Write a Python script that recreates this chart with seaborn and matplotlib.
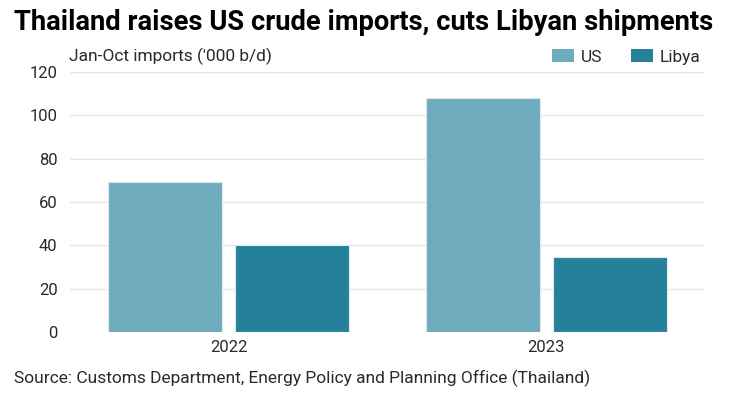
import numpy as np
import pandas as pd
import matplotlib
matplotlib.use("Agg")
import matplotlib.pyplot as plt
import seaborn as sns
from matplotlib.patches import Patch

# datos
anios = ["2022", "2023"]
origenes = ["US", "Libya"]
us = [69.3, 108.0]
libya = [40.0, 34.8]

colores = {"US": "#6EABBD", "Libya": "#25819A"}
texto = "#2a2a2a"

df = pd.DataFrame({
    "anio": anios * 2,
    "origen": ["US"] * 2 + ["Libya"] * 2,
    "valor": us + libya,
})

sns.set_theme(style="white")
plt.rcParams["font.family"] = ["Roboto", "DejaVu Sans"]

fig = plt.figure(figsize=(7.29, 3.98), dpi=100)
ax = fig.add_axes([70 / 729, 1 - 332 / 398, 635 / 729, 260 / 398])

sns.barplot(data=df, x="anio", y="valor", hue="origen", order=anios,
            hue_order=origenes, palette=colores, saturation=1, width=0.8, gap=0.1,
            edgecolor="#DCEBF0", linewidth=0.8, ax=ax, legend=False)

ax.set_ylim(0, 120)
ax.set_xlim(-0.5, 1.5)
ax.set_yticks(np.arange(0, 121, 20))
ax.yaxis.grid(True, color="#E6E6E6", linewidth=1)
ax.set_axisbelow(True)
for s in ax.spines.values():
    s.set_visible(False)
ax.set_xlabel("")
ax.set_ylabel("")
ax.tick_params(axis="both", length=0, labelsize=12, colors=texto)
ax.tick_params(axis="y", pad=9)
ax.tick_params(axis="x", pad=6)

fig.text(14 / 729, 1 - 22 / 398, "Thailand raises US crude imports, cuts Libyan shipments",
         fontsize=19.7, fontweight="bold", va="center", ha="left", color="black")
fig.text(69 / 729, 1 - 56 / 398, "Jan-Oct imports ('000 b/d)", fontsize=12.5,
         va="center", ha="left", color=texto)
fig.text(14 / 729, 1 - 378 / 398,
         "Source: Customs Department, Energy Policy and Planning Office (Thailand)",
         fontsize=12.5, va="center", ha="left", color=texto)

handles = [Patch(facecolor=colores[o], edgecolor="none") for o in origenes]
leg = fig.legend(handles, origenes, loc="center right",
                 bbox_to_anchor=(700 / 729, 1 - 57 / 398), ncol=2, frameon=False,
                 fontsize=12.5, handlelength=1.3, handleheight=0.8,
                 handletextpad=0.35, columnspacing=1.65, borderaxespad=0, borderpad=0)
for t in leg.get_texts():
    t.set_color(texto)

fig.savefig("out.png", dpi=100)
